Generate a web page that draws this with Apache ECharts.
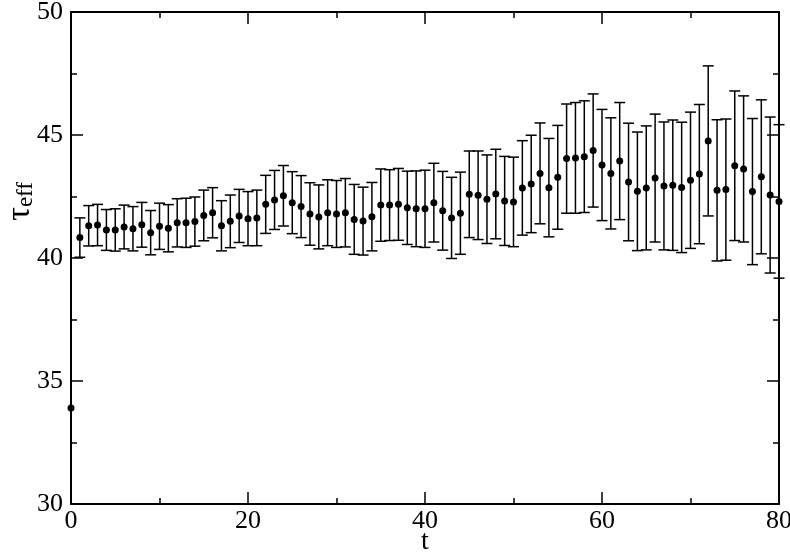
<!DOCTYPE html>
<html><head><meta charset="utf-8">
<script src="https://cdn.jsdelivr.net/npm/echarts@6/dist/echarts.min.js"></script>
<style>html,body{margin:0;padding:0;background:#fff}#c{width:790px;height:557px}</style>
</head><body><div id="c"></div>
<script>
// t values
var tValues = [];
for (var i = 0; i <= 80; i++) tValues.push(i);
// tau_eff central values
var tauEff = [33.90,40.83,41.31,41.34,41.14,41.14,41.26,41.19,41.35,41.03,
  41.29,41.21,41.43,41.43,41.48,41.73,41.84,41.31,41.49,41.71,
  41.60,41.63,42.18,42.36,42.53,42.25,42.09,41.79,41.67,41.84,
  41.79,41.84,41.57,41.50,41.68,42.15,42.15,42.18,42.04,42.00,
  42.00,42.25,41.92,41.63,41.82,42.59,42.55,42.39,42.60,42.32,
  42.28,42.85,43.01,43.44,42.86,43.28,44.04,44.07,44.12,44.37,
  43.78,43.44,43.94,43.09,42.71,42.85,43.25,42.93,42.96,42.87,
  43.16,43.41,44.76,42.75,42.78,43.75,43.62,42.70,43.30,42.56,42.30];
// symmetric error bar half-widths
var tauErr = [0,0.80,0.82,0.84,0.83,0.86,0.89,0.90,0.91,0.90,
  0.94,0.96,0.98,1.00,1.00,1.03,1.02,1.02,1.07,1.08,
  1.10,1.13,1.18,1.20,1.23,1.26,1.26,1.27,1.30,1.34,
  1.36,1.39,1.42,1.38,1.39,1.47,1.44,1.46,1.49,1.54,
  1.57,1.60,1.60,1.65,1.67,1.76,1.80,1.80,1.82,1.81,
  1.82,1.92,1.98,2.05,2.00,2.11,2.22,2.25,2.27,2.30,
  2.26,2.26,2.38,2.39,2.41,2.52,2.60,2.60,2.65,2.65,
  2.77,2.83,3.05,2.87,2.87,3.04,2.97,2.97,3.13,3.17,3.12];
var xTicks = [0,20,40,60,80];
var yTicks = [30,35,40,45,50];

var pts = tValues.map(function(t,i){return [t, tauEff[i]];});
var bars = tValues.map(function(t,i){return [t, tauEff[i]-tauErr[i], tauEff[i]+tauErr[i], tauErr[i]];});

var FONT = 'Liberation Serif';
var chart = echarts.init(document.getElementById('c'), null, {renderer:'canvas'});
function axisBase(show){
  return {
    axisLine:{show:true, onZero:false, lineStyle:{color:'#000', width:2}},
    axisTick:{show:true, inside:true, length:12, lineStyle:{color:'#000', width:1.5}},
    minorTick:{show:true, splitNumber:2, length:6, lineStyle:{color:'#000', width:1.5}},
    splitLine:{show:false},
    axisLabel:{show:show, color:'#000', fontFamily:FONT, fontSize:26}
  };
}
var xb = axisBase(true), xt = axisBase(false), yl = axisBase(true), yr = axisBase(false);
xb.axisLabel.margin = 4;
yl.axisLabel.margin = 8;
chart.setOption({
  animation:false,
  backgroundColor:'#fff',
  grid:{left:71, right:11, top:12, bottom:53, containLabel:false, outerBoundsMode:'none'},
  xAxis:[
    Object.assign(xb, {type:'value', min:xTicks[0], max:xTicks[xTicks.length-1], interval:20, position:'bottom',
      name:'t', nameLocation:'middle', nameGap:24, nameMoveOverlap:false,
      nameTextStyle:{color:'#000', fontFamily:FONT, fontSize:28}}),
    Object.assign(xt, {type:'value', min:0, max:80, interval:20, position:'top'})
  ],
  yAxis:[
    Object.assign(yl, {type:'value', min:yTicks[0], max:yTicks[yTicks.length-1], interval:5, position:'left'}),
    Object.assign(yr, {type:'value', min:30, max:50, interval:5, position:'right'})
  ],
  graphic:[{
    type:'text', left:3, top:182, rotation:Math.PI/2,
    style:{text:'{a|τ}{b|eff}', fill:'#000',
      rich:{a:{fontFamily:FONT, fontSize:34, fill:'#000'}, b:{fontFamily:FONT, fontSize:23, fill:'#000', padding:[12,0,0,0]}}}
  }],
  series:[
    {type:'custom', clip:false, z:2, data:bars,
      renderItem:function(params, api){
        if (api.value(3) === 0) return null;
        var lo = api.coord([api.value(0), api.value(1)]);
        var hi = api.coord([api.value(0), api.value(2)]);
        var hw = 5.5;
        var st = {stroke:'#000', lineWidth:1.5};
        return {type:'group', children:[
          {type:'line', shape:{x1:lo[0], y1:lo[1], x2:hi[0], y2:hi[1]}, style:st},
          {type:'line', shape:{x1:lo[0]-hw, y1:lo[1], x2:lo[0]+hw, y2:lo[1]}, style:st},
          {type:'line', shape:{x1:hi[0]-hw, y1:hi[1], x2:hi[0]+hw, y2:hi[1]}, style:st}
        ]};
      }},
    {type:'scatter', data:pts, symbol:'circle', symbolSize:7, z:3,
      itemStyle:{color:'#000', opacity:1}}
  ]
});
</script></body></html>
